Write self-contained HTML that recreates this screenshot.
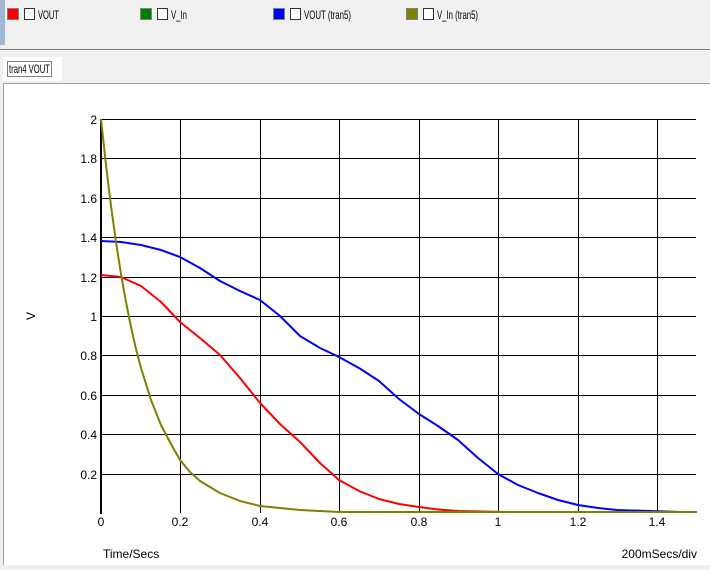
<!DOCTYPE html>
<html><head><meta charset="utf-8"><style>
body{margin:0;width:710px;height:565px;overflow:hidden;background:#f0f0f0;font-family:"Liberation Sans",sans-serif;}
</style></head><body>
<svg width="710" height="565" xmlns="http://www.w3.org/2000/svg" font-family="Liberation Sans, sans-serif" font-size="12">
<rect x="0" y="0" width="710" height="565" fill="#f0f0f0"/>
<rect x="0" y="0" width="5" height="45" fill="#a0b8d4"/>
<line x1="0" y1="49.5" x2="710" y2="49.5" stroke="#808080"/>
<line x1="0" y1="50.5" x2="710" y2="50.5" stroke="#ffffff"/>
<g>
<rect x="7.5" y="8.5" width="11" height="11" fill="#ff0000" stroke="#808080"/>
<rect x="24.5" y="8.5" width="10" height="11" fill="#fff" stroke="#333"/>
<text x="38" y="19" font-size="12" textLength="21" lengthAdjust="spacingAndGlyphs">VOUT</text>
<rect x="140.5" y="8.5" width="11" height="11" fill="#008000" stroke="#808080"/>
<rect x="157.5" y="8.5" width="10" height="11" fill="#fff" stroke="#333"/>
<text x="171" y="19" font-size="12" textLength="16" lengthAdjust="spacingAndGlyphs">V_In</text>
<rect x="273.5" y="8.5" width="11" height="11" fill="#0000ff" stroke="#808080"/>
<rect x="290.5" y="8.5" width="10" height="11" fill="#fff" stroke="#333"/>
<text x="304" y="19" font-size="12" textLength="47" lengthAdjust="spacingAndGlyphs">VOUT (tran5)</text>
<rect x="406.5" y="8.5" width="11" height="11" fill="#808000" stroke="#808080"/>
<rect x="423.5" y="8.5" width="10" height="11" fill="#fff" stroke="#333"/>
<text x="437" y="19" font-size="12" textLength="41" lengthAdjust="spacingAndGlyphs">V_In (tran5)</text>
</g>
<rect x="3" y="57" width="59" height="24" fill="#ffffff"/>
<rect x="7.5" y="61.5" width="44" height="15" fill="none" stroke="#000" stroke-dasharray="1,1"/>
<text x="9" y="73" font-size="12" textLength="41" lengthAdjust="spacingAndGlyphs">tran4 VOUT</text>
<rect x="3.5" y="83.5" width="710" height="485" fill="#ffffff" stroke="#a0a0a0"/>
<g stroke="#000" stroke-width="1">
<line x1="101" y1="119.5" x2="696" y2="119.5"/>
<line x1="101" y1="158.5" x2="696" y2="158.5"/>
<line x1="101" y1="198.5" x2="696" y2="198.5"/>
<line x1="101" y1="237.5" x2="696" y2="237.5"/>
<line x1="101" y1="277.5" x2="696" y2="277.5"/>
<line x1="101" y1="316.5" x2="696" y2="316.5"/>
<line x1="101" y1="355.5" x2="696" y2="355.5"/>
<line x1="101" y1="395.5" x2="696" y2="395.5"/>
<line x1="101" y1="434.5" x2="696" y2="434.5"/>
<line x1="101" y1="474.5" x2="696" y2="474.5"/>
<line x1="180.5" y1="119" x2="180.5" y2="513"/>
<line x1="260.5" y1="119" x2="260.5" y2="513"/>
<line x1="339.5" y1="119" x2="339.5" y2="513"/>
<line x1="419.5" y1="119" x2="419.5" y2="513"/>
<line x1="498.5" y1="119" x2="498.5" y2="513"/>
<line x1="578.5" y1="119" x2="578.5" y2="513"/>
<line x1="657.5" y1="119" x2="657.5" y2="513"/>
</g>
<line x1="101" y1="119" x2="101" y2="514" stroke="#000" stroke-width="2"/>
<g text-anchor="end" font-size="12">
<text x="97" y="124">2</text>
<text x="97" y="163">1.8</text>
<text x="97" y="203">1.6</text>
<text x="97" y="242">1.4</text>
<text x="97" y="282">1.2</text>
<text x="97" y="321">1</text>
<text x="97" y="360">0.8</text>
<text x="97" y="400">0.6</text>
<text x="97" y="439">0.4</text>
<text x="97" y="479">0.2</text>
</g>
<g text-anchor="middle" font-size="12">
<text x="101" y="526">0</text>
<text x="180" y="526">0.2</text>
<text x="260" y="526">0.4</text>
<text x="339" y="526">0.6</text>
<text x="419" y="526">0.8</text>
<text x="498" y="526">1</text>
<text x="578" y="526">1.2</text>
<text x="657" y="526">1.4</text>
</g>
<text x="35" y="316" font-size="12" text-anchor="middle" transform="rotate(-90 35 316)">V</text>
<text x="103" y="558" font-size="12">Time/Secs</text>
<text x="697" y="558" font-size="12" text-anchor="end">200mSecs/div</text>
<g fill="none" stroke-width="2" stroke-linejoin="round">
<polyline stroke="#ff0000" points="101,275 121,277 141,286 161,302 180,322 200,338 220,355 240,378 260,403 280,424 300,442 320,463 339,480 359,491 379,499 399,504 419,507 438,509.5 458,511 506,512"/>
<polyline stroke="#0000ff" points="101,241 121,242 141,245 161,250 180,257 200,268 220,281 240,291 260,300 280,316 300,336 320,348 339,357 359,368 379,381 399,399 419,414 438,426 458,440 478,458 498,474 518,485 538,493 558,500 578,505 598,508 617,510 681,512"/>
<polyline stroke="#808000" points="101,119 106,165 111,206 116,242 121,274 126,302 131,327 136,349 141,368 151,400 161,425 171,444 180,460 190,472 200,481 220,493 240,501 260,506 300,510 339,512 697,512"/>
</g>
</svg>
</body></html>
